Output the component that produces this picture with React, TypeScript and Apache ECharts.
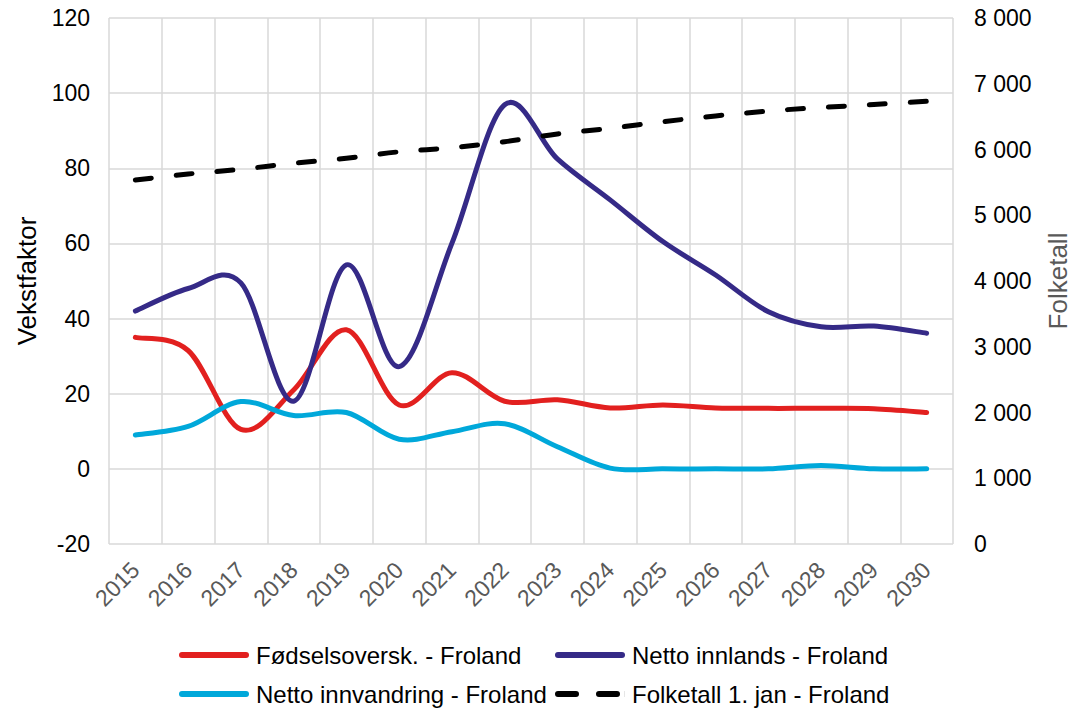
import React, { useEffect, useRef } from "react";
import * as echarts from "echarts";

const years = ["2015","2016","2017","2018","2019","2020","2021","2022","2023","2024","2025","2026","2027","2028","2029","2030"];
const fodselsoversk = [35, 31.5, 10.5, 21, 37, 17, 25.6, 18, 18.4, 16.2, 17, 16.2, 16.1, 16.1, 16, 15];
const nettoInnlands = [42, 48, 49.5, 18, 54.3, 27.2, 60, 96.9, 82.5, 71.6, 60.5, 51.6, 41.8, 37.8, 38, 36.1];
const nettoInnvandring = [9, 11.3, 17.9, 14.2, 15, 7.9, 9.9, 12, 5.9, 0.2, 0, 0, 0, 0.9, 0, 0];
const folketall = [5536, 5627, 5700, 5790, 5866, 5965, 6027, 6119, 6236, 6322, 6423, 6510, 6585, 6639, 6684, 6733];

const leftTicks = { min: -20, max: 120, interval: 20 };
const rightTicks = { min: 0, max: 8000, interval: 1000 };

const FONT = "Liberation Sans, Arial, sans-serif";

const LINE_ICON = "path://M3,0H67A3,3 0 0 1 67,6H3A3,3 0 0 1 3,0Z";
const DASH_ICON = "path://M3,0H21A3,3 0 0 1 21,6H3A3,3 0 0 1 3,0Z M44,0H62A3,3 0 0 1 62,6H44A3,3 0 0 1 44,0Z M69.9,0H70V6H69.9Z";

function smoothSeries(name: string, values: number[], color: string, yAxisIndex: number, dash?: number[]) {
  return {
    name,
    type: "custom",
    yAxisIndex,
    data: values.map((v, i) => [i, v]),
    encode: { x: 0, y: 1 },
    itemStyle: { color },
    renderItem: (params: any, api: any) => {
      if (params.dataIndex !== 0) return null;
      const pts = values.map((v, i) => api.coord([i, v]));
      let d = `M${pts[0][0]},${pts[0][1]}`;
      for (let i = 0; i < pts.length - 1; i++) {
        const p0 = pts[i - 1] || pts[i];
        const p1 = pts[i];
        const p2 = pts[i + 1];
        const p3 = pts[i + 2] || pts[i + 1];
        const c1x = p1[0] + (p2[0] - p0[0]) / 6;
        const c1y = p1[1] + (p2[1] - p0[1]) / 6;
        const c2x = p2[0] - (p3[0] - p1[0]) / 6;
        const c2y = p2[1] - (p3[1] - p1[1]) / 6;
        d += ` C${c1x},${c1y} ${c2x},${c2y} ${p2[0]},${p2[1]}`;
      }
      return {
        type: "path",
        shape: { pathData: d },
        style: {
          fill: "none",
          stroke: color,
          lineWidth: 5,
          lineCap: "round",
          lineJoin: "round",
          lineDash: dash || null,
        },
      };
    },
  };
}

export default function App() {
  const ref = useRef<HTMLDivElement>(null);
  useEffect(() => {
    if (!ref.current) return;
    const chart = echarts.init(ref.current, undefined, { renderer: "svg" });
    const gridColor = "#d9d9d9";
    const names = [
      "Fødselsoversk. - Froland",
      "Netto innlands - Froland",
      "Netto innvandring - Froland",
      "Folketall 1. jan - Froland",
    ];
    const colors = ["#E2201F", "#352A87", "#00A8DA", "#000000"];
    const legendPos = [
      [179, 643],
      [555, 643],
      [179, 682],
      [555, 682],
    ];
    chart.setOption({
      animation: false,
      textStyle: { fontFamily: FONT },
      grid: { left: 109, right: 118, top: 18, bottom: 165, containLabel: false },
      legend: names.map((n, i) => ({
        data: [{ name: n, icon: i === 3 ? DASH_ICON : LINE_ICON }],
        left: legendPos[i][0],
        top: legendPos[i][1],
        itemWidth: 70,
        itemHeight: 6,
        padding: 0,
        selectedMode: false,
        textStyle: { fontSize: 24, color: "#000", fontFamily: FONT, padding: [0, 0, 0, 2] },
      })),
      xAxis: {
        type: "category",
        data: years,
        boundaryGap: true,
        axisLine: { show: false },
        axisTick: { show: false },
        splitLine: { show: true, lineStyle: { color: gridColor, width: 1.5 } },
        axisLabel: { rotate: 45, margin: 22, fontSize: 23, color: "#595959", fontFamily: FONT, interval: 0 },
      },
      yAxis: [
        {
          type: "value",
          ...leftTicks,
          name: "Vekstfaktor",
          nameLocation: "middle",
          nameRotate: 90,
          nameGap: 69,
          nameTextStyle: { fontSize: 26, color: "#000", fontFamily: FONT },
          axisLine: { show: false },
          axisTick: { show: false },
          splitLine: { show: true, lineStyle: { color: gridColor, width: 1.5 } },
          axisLabel: { fontSize: 23, color: "#000", margin: 19, fontFamily: FONT },
        },
        {
          type: "value",
          ...rightTicks,
          position: "right",
          name: "Folketall",
          nameLocation: "middle",
          nameRotate: 90,
          nameGap: 92,
          nameTextStyle: { fontSize: 26, color: "#595959", fontFamily: FONT },
          axisLine: { show: false },
          axisTick: { show: false },
          splitLine: { show: false },
          axisLabel: {
            fontSize: 23,
            color: "#000",
            margin: 21,
            fontFamily: FONT,
            formatter: (v: number) => String(v).replace(/\B(?=(\d{3})+(?!\d))/g, " "),
          },
        },
      ],
      series: [
        smoothSeries(names[0], fodselsoversk, colors[0], 0),
        smoothSeries(names[1], nettoInnlands, colors[1], 0),
        smoothSeries(names[2], nettoInnvandring, colors[2], 0),
        smoothSeries(names[3], folketall, colors[3], 1, [16, 25]),
      ],
    });
    return () => chart.dispose();
  }, []);
  return (
    <div
      ref={ref}
      style={{ width: 1079, height: 709, position: "absolute", left: 0, top: 0, overflow: "hidden" }}
    />
  );
}
